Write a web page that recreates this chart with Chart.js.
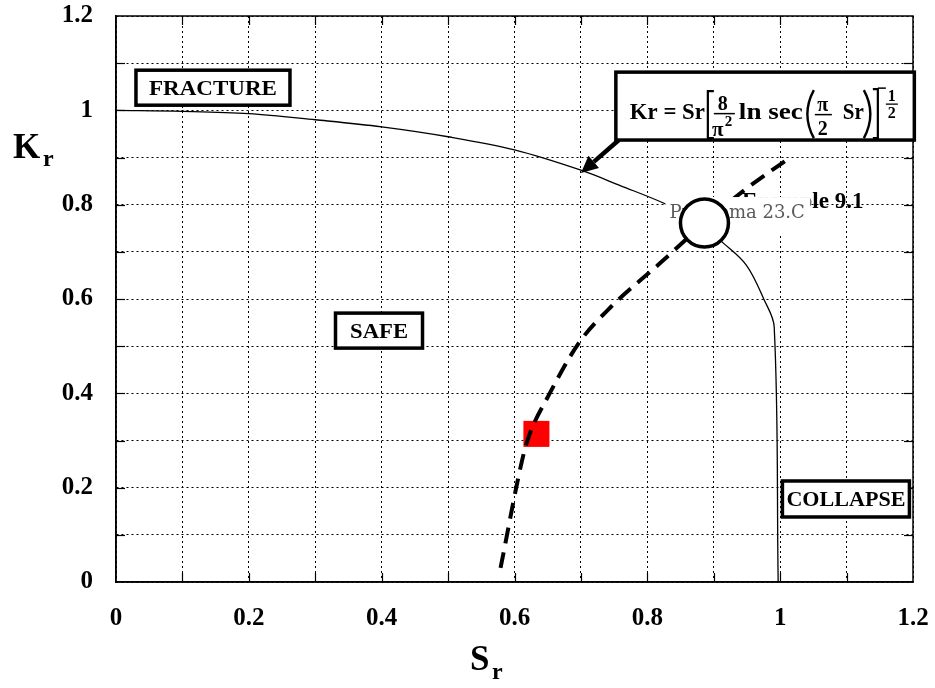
<!DOCTYPE html>
<html>
<head>
<meta charset="utf-8">
<title>Kr - Sr</title>
<script src="https://cdn.jsdelivr.net/npm/chart.js@4.4.1/dist/chart.umd.min.js"></script>
<style>
  html, body { margin: 0; padding: 0; background: #fff; }
  #wrap { width: 935px; height: 688px; }
</style>
</head>
<body>
<div id="wrap"><canvas id="grafico"></canvas></div>
<script>
// Diagrama de evaluación de falla Kr - Sr (strip yield)
// Valores leídos a ojo de la figura original.

// ---------- Datos ----------
const curvaSr = [0, 0.1, 0.2, 0.3, 0.4, 0.5, 0.6, 0.7, 0.76, 0.825, 0.87, 0.914, 0.949, 0.976, 0.991, 0.997]
const curvaKr = [1.0, 0.998, 0.993, 0.98, 0.965, 0.944, 0.916, 0.873, 0.84, 0.803, 0.77, 0.719, 0.672, 0.598, 0.541, 0]

const trayectoriaSr = [0.579, 0.614, 0.624, 0.65, 0.697, 0.745, 0.816, 0.886, 0.95, 1.014]
const trayectoriaKr = [0.03, 0.273, 0.318, 0.392, 0.507, 0.583, 0.672, 0.761, 0.835, 0.899]

const problemaSr = [0.633]   // cuadro rojo
const problemaKr = [0.314]
const ejemploSr = [0.886]    // círculo
const ejemploKr = [0.761]

const ticksX = [0, 0.2, 0.4, 0.6, 0.8, 1, 1.2]
const etiquetasX = ['0', '0.2', '0.4', '0.6', '0.8', '1', '1.2']
const ticksY = [0, 0.2, 0.4, 0.6, 0.8, 1, 1.2]
const etiquetasY = ['0', '0.2', '0.4', '0.6', '0.8', '1', '1.2']

// ---------- Helpers ----------
const SERIF = "'Liberation Serif', 'DejaVu Serif', serif"

function etiqueta(v, ticks, etiquetas) {
  const i = ticks.findIndex(t => Math.abs(t - v) < 1e-6)
  return i >= 0 ? etiquetas[i] : ''
}

function puntos(xs, ys) {
  return xs.map((x, i) => ({ x, y: ys[i] }))
}

function texto(ctx, t, x, y, size, align) {
  ctx.font = `bold ${size}px ${SERIF}`
  ctx.textAlign = align || 'left'
  ctx.fillText(t, x, y)
}

// texto estirado en horizontal hasta un ancho dado (la fuente original es más ancha)
function textoAncho(ctx, t, x, y, size, ancho, align) {
  ctx.font = `bold ${size}px ${SERIF}`
  const k = ancho / ctx.measureText(t).width
  ctx.save()
  ctx.translate(x, y)
  ctx.scale(k, 1)
  ctx.textAlign = align || 'left'
  ctx.fillText(t, 0, 0)
  ctx.restore()
}

function cajaTexto(ctx, cx, cy, w, h, t, size, ancho) {
  ctx.save()
  ctx.fillStyle = '#fff'
  ctx.fillRect(cx - w / 2, cy - h / 2, w, h)
  ctx.lineWidth = 3.5
  ctx.strokeStyle = '#000'
  ctx.strokeRect(cx - w / 2, cy - h / 2, w, h)
  ctx.fillStyle = '#000'
  ctx.textBaseline = 'alphabetic'
  textoAncho(ctx, t, cx, cy + size * 0.34, size, ancho, 'center')
  ctx.restore()
}

function linea(ctx, pts, w) {
  ctx.lineWidth = w
  ctx.beginPath()
  ctx.moveTo(pts[0][0], pts[0][1])
  for (let i = 1; i < pts.length; i++) ctx.lineTo(pts[i][0], pts[i][1])
  ctx.stroke()
}

// Fórmula Kr = Sr [8/π² ln sec(π/2 Sr)]^-1/2 dentro de su caja
function dibujarFormula(ctx, bx, by, bw, bh) {
  ctx.save()
  ctx.fillStyle = '#fff'
  ctx.fillRect(bx, by, bw, bh)
  ctx.lineWidth = 3.5
  ctx.strokeStyle = '#000'
  ctx.strokeRect(bx, by, bw, bh)
  ctx.fillStyle = '#000'
  ctx.textBaseline = 'alphabetic'

  textoAncho(ctx, 'Kr = Sr', bx + 14, by + 47, 24, 75)
  // corchete izquierdo
  linea(ctx, [[bx + 98, by + 19], [bx + 92, by + 19], [bx + 92, by + 66], [bx + 98, by + 66]], 2.2)
  // 8 / π²
  texto(ctx, '8', bx + 107, by + 38, 20, 'center')
  linea(ctx, [[bx + 98, by + 41.5], [bx + 119, by + 41.5]], 1.5)
  texto(ctx, 'π', bx + 102, by + 64, 21, 'center')
  texto(ctx, '2', bx + 109, by + 54, 15)
  textoAncho(ctx, 'ln sec', bx + 123, by + 47, 24, 64)
  // paréntesis
  ctx.lineWidth = 2.4
  ctx.beginPath()
  ctx.moveTo(bx + 198, by + 18)
  ctx.quadraticCurveTo(bx + 185, by + 42, bx + 198, by + 66)
  ctx.stroke()
  texto(ctx, 'π', bx + 207, by + 39, 20, 'center')
  linea(ctx, [[bx + 199, by + 42.5], [bx + 216, by + 42.5]], 1.5)
  texto(ctx, '2', bx + 207, by + 63, 20, 'center')
  textoAncho(ctx, 'Sr', bx + 227, by + 47, 24, 21)
  ctx.lineWidth = 2.4
  ctx.beginPath()
  ctx.moveTo(bx + 248, by + 18)
  ctx.quadraticCurveTo(bx + 261, by + 42, bx + 248, by + 66)
  ctx.stroke()
  // corchete derecho con el signo menos del exponente
  linea(ctx, [[bx + 257, by + 17], [bx + 262, by + 17], [bx + 262, by + 66], [bx + 257, by + 66]], 2.2)
  linea(ctx, [[bx + 262, by + 16], [bx + 270, by + 16]], 1.5)
  texto(ctx, '1', bx + 276, by + 29, 16, 'center')
  linea(ctx, [[bx + 270, by + 32], [bx + 282, by + 32]], 1.3)
  texto(ctx, '2', bx + 276, by + 46, 16, 'center')
  ctx.restore()
}

function flecha(ctx, x0, y0, x1, y1) {
  const ang = Math.atan2(y1 - y0, x1 - x0)
  const largo = 17
  const ancho = 8
  const bxp = x1 - largo * Math.cos(ang)
  const byp = y1 - largo * Math.sin(ang)
  ctx.save()
  ctx.strokeStyle = '#000'
  ctx.fillStyle = '#000'
  ctx.lineWidth = 4.5
  ctx.beginPath()
  ctx.moveTo(x0, y0)
  ctx.lineTo(bxp, byp)
  ctx.stroke()
  ctx.beginPath()
  ctx.moveTo(x1, y1)
  ctx.lineTo(bxp + ancho * Math.sin(ang), byp - ancho * Math.cos(ang))
  ctx.lineTo(bxp - ancho * Math.sin(ang), byp + ancho * Math.cos(ang))
  ctx.closePath()
  ctx.fill()
  ctx.restore()
}

// ---------- Plugin de anotaciones ----------
const anotaciones = {
  id: 'anotaciones',
  beforeDraw(chart) {
    const ctx = chart.ctx
    ctx.save()
    ctx.fillStyle = '#fff'
    ctx.fillRect(0, 0, chart.width, chart.height)
    ctx.restore()
  },
  // textos superpuestos que quedan bajo el círculo
  beforeDatasetDraw(chart, args) {
    if (args.index !== 0) return
    const ctx = chart.ctx
    const cx = chart.scales.x.getPixelForValue(ejemploSr[0])
    const cy = chart.scales.y.getPixelForValue(ejemploKr[0])
    ctx.save()
    ctx.fillStyle = '#000'
    ctx.textBaseline = 'alphabetic'
    texto(ctx, 'Example 9.1', cx + 159, cy - 15, 23, 'right')
    ctx.fillStyle = '#fff'
    ctx.fillRect(cx - 39, cy - 26, 145, 38)
    ctx.fillStyle = '#5a5a5a'
    ctx.font = `18px 'DejaVu Serif', serif`
    ctx.textAlign = 'left'
    ctx.fillText('Problema 23.C', cx - 35, cy - 5)
    ctx.restore()
  },
  afterDraw(chart) {
    const ctx = chart.ctx
    const a = chart.chartArea
    const sx = chart.scales.x
    const sy = chart.scales.y
    const px = v => sx.getPixelForValue(v)
    const py = v => sy.getPixelForValue(v)

    // marco y marcas interiores
    ctx.save()
    ctx.strokeStyle = '#000'
    ctx.lineWidth = 1.5
    ctx.strokeRect(a.left, a.top, a.right - a.left, a.bottom - a.top)
    for (let i = 1; i < 12; i++) {
      const x = Math.round(px(i / 10)) + 0.5
      const y = Math.round(py(i / 10)) + 0.5
      linea(ctx, [[x, a.bottom], [x, a.bottom - 9]], 1.2)
      linea(ctx, [[x, a.top], [x, a.top + 9]], 1.2)
      linea(ctx, [[a.left, y], [a.left + 9, y]], 1.2)
      linea(ctx, [[a.right, y], [a.right - 9, y]], 1.2)
    }
    ctx.restore()

    // cajas de zonas
    cajaTexto(ctx, px(0.146), py(1.048), 154, 35, 'FRACTURE', 21, 128)
    cajaTexto(ctx, px(0.396), py(0.533), 87, 35, 'SAFE', 21, 58)
    cajaTexto(ctx, px(1.099), py(0.176), 127, 36, 'COLLAPSE', 21, 119)

    // fórmula y flecha
    const fx0 = px(0.7526), fy0 = py(1.081)
    const fx1 = px(1.202), fy1 = py(0.937)
    flecha(ctx, fx0 + 3, fy1, px(0.70), py(0.867))
    dibujarFormula(ctx, fx0, fy0, fx1 - fx0, fy1 - fy0)

    // títulos de ejes
    ctx.save()
    ctx.fillStyle = '#000'
    ctx.textBaseline = 'alphabetic'
    texto(ctx, 'K', 13, 158, 35)
    texto(ctx, 'r', 43, 166, 24)
    texto(ctx, 'S', 470, 670, 35)
    texto(ctx, 'r', 492, 679, 24)
    ctx.restore()
  }
}

// ---------- Gráfico ----------
const fuenteTicks = { family: SERIF, size: 25, weight: 'bold' }

new Chart(document.getElementById('grafico'), {
  type: 'scatter',
  data: {
    datasets: [
      {
        label: 'Example 9.1',
        data: puntos(ejemploSr, ejemploKr),
        pointStyle: 'circle',
        pointRadius: 24,
        pointBackgroundColor: '#fff',
        pointBorderColor: '#000',
        pointBorderWidth: 3.5
      },
      {
        label: 'Trayectoria',
        data: puntos(trayectoriaSr, trayectoriaKr),
        showLine: true,
        borderColor: '#000',
        borderWidth: 4,
        borderDash: [16, 9],
        pointRadius: 0,
        cubicInterpolationMode: 'monotone'
      },
      {
        label: 'Problema 23.C',
        data: puntos(problemaSr, problemaKr),
        pointStyle: 'rect',
        pointRadius: 18.4,
        pointBackgroundColor: '#ff0000',
        pointBorderWidth: 0
      },
      {
        label: 'Curva de falla',
        data: puntos(curvaSr, curvaKr),
        showLine: true,
        borderColor: '#000',
        borderWidth: 1.3,
        pointRadius: 0,
        tension: 0.35
      }
    ]
  },
  options: {
    responsive: true,
    maintainAspectRatio: false,
    animation: false,
    events: [],
    layout: { autoPadding: false, padding: { left: 0, right: 22, top: 16, bottom: 0 } },
    plugins: { legend: { display: false }, tooltip: { enabled: false } },
    scales: {
      x: {
        type: 'linear',
        min: 0,
        max: 1.2,
        afterFit: s => { s.height = 106; s.paddingLeft = 0; s.paddingRight = 0 },
        ticks: {
          stepSize: 0.1,
          autoSkip: false,
          maxRotation: 0,
          padding: 22,
          color: '#000',
          font: fuenteTicks,
          callback: v => etiqueta(v, ticksX, etiquetasX)
        },
        grid: { color: '#000', lineWidth: 1, drawTicks: false },
        border: { display: true, color: '#000', width: 1.5, dash: [2, 3] }
      },
      y: {
        type: 'linear',
        min: 0,
        max: 1.2,
        afterFit: s => { s.width = 116; s.paddingTop = 0; s.paddingBottom = 0 },
        ticks: {
          stepSize: 0.1,
          autoSkip: false,
          padding: 23,
          color: '#000',
          font: fuenteTicks,
          callback: v => etiqueta(v, ticksY, etiquetasY)
        },
        grid: { color: '#000', lineWidth: 1, drawTicks: false },
        border: { display: true, color: '#000', width: 1.5, dash: [2, 3] }
      }
    }
  },
  plugins: [anotaciones]
})
</script>
</body>
</html>
